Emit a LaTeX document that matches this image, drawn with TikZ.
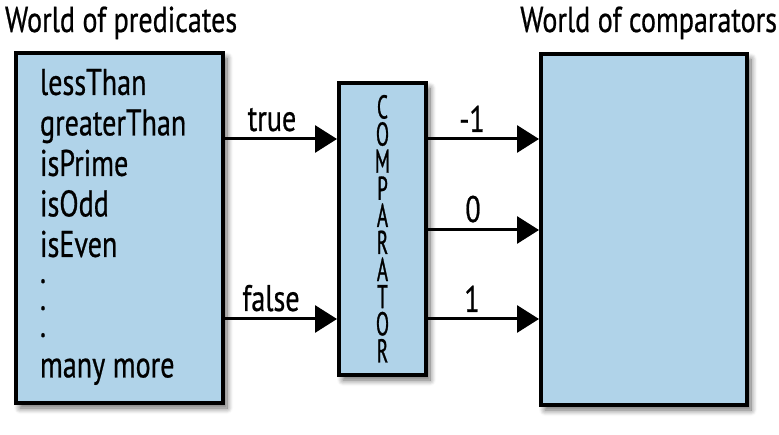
\documentclass[tikz,border=0pt]{standalone}
\usepackage{fontspec}
\usetikzlibrary{arrows.meta,shadows.blur}
\newfontfamily\condf[FakeStretch=0.76,FakeBold=0.6]{PT Sans}
\newfontfamily\condt[FakeStretch=0.78,FakeBold=0.6]{PT Sans}
\newfontfamily\condg[FakeStretch=0.58,FakeBold=0.8]{PT Sans}
\definecolor{boxblue}{RGB}{176,211,233}
\tikzset{
  boxnode/.style={draw=black,line width=4pt,fill=boxblue,inner sep=0pt,outer sep=0pt,
    blur shadow={shadow xshift=4pt,shadow yshift=-5pt,shadow blur steps=10,shadow blur radius=6pt,shadow opacity=60}},
  listtxt/.style={inner sep=0pt,outer sep=0pt,font=\condf\fontsize{37}{40.5}\selectfont,align=left,anchor=north west},
  title/.style={inner sep=0pt,outer sep=0pt,font=\condt\fontsize{36}{40}\selectfont},
  lbl/.style={inner sep=0pt,outer sep=0pt,font=\condf\fontsize{37}{40}\selectfont,anchor=base},
  letter/.style={inner sep=0pt,outer sep=0pt,font=\condg\fontsize{33}{34}\selectfont,anchor=base},
  arr/.style={line width=3pt,-{Triangle[length=22pt,width=27pt]}}
}
\begin{document}
\begin{tikzpicture}[x=1pt,y=-1pt]
\useasboundingbox (0,0) rectangle (779,435);
% boxes
\node[boxnode,minimum width=207pt,minimum height=350pt] (pred) at (119.5,228) {};
\node[boxnode,minimum width=87pt,minimum height=292pt] (comp) at (382.5,229) {};
\node[boxnode,minimum width=206pt,minimum height=351pt] (cmpw) at (644,229.5) {};
% titles
\node[title,anchor=base west] (t1) at (5,32) {World of predicates};
\node[title,anchor=base east] (t2) at (777,32) {World of comparators};
% predicate list (first baseline at y=95)
\node[listtxt] (plist) at (40,69) {lessThan\\greaterThan\\isPrime\\isOdd\\isEven\\[-14.5pt].\\[-13.5pt].\\[-13.5pt].\\many more};
% comparator letters
\foreach \L [count=\i from 0] in {C,O,M,P,A,R,A,T,O,R}{
  \node[letter] (c\i) at (382.5,{118.5+27.1*\i}) {\L};
}
% connectors
\coordinate (ya) at (0,139);
\coordinate (yb) at (0,230);
\coordinate (yc) at (0,319);
\draw[arr] (ya -| pred.east) -- ([xshift=-2pt]ya -| comp.west);
\draw[arr] (yc -| pred.east) -- ([xshift=-2pt]yc -| comp.west);
\draw[arr] (ya -| comp.east) -- ([xshift=-2pt]ya -| cmpw.west);
\draw[arr] (yb -| comp.east) -- ([xshift=-2pt]yb -| cmpw.west);
\draw[arr] (yc -| comp.east) -- ([xshift=-2pt]yc -| cmpw.west);
% labels
\node[lbl] (ltrue) at (272,131) {true};
\node[lbl] (lfalse) at (271,311) {false};
\node[lbl] (lm1) at (472,132) {-1};
\node[lbl] (l0) at (473,222) {0};
\node[lbl] (l1) at (472,312) {1};
\end{tikzpicture}
\end{document}
